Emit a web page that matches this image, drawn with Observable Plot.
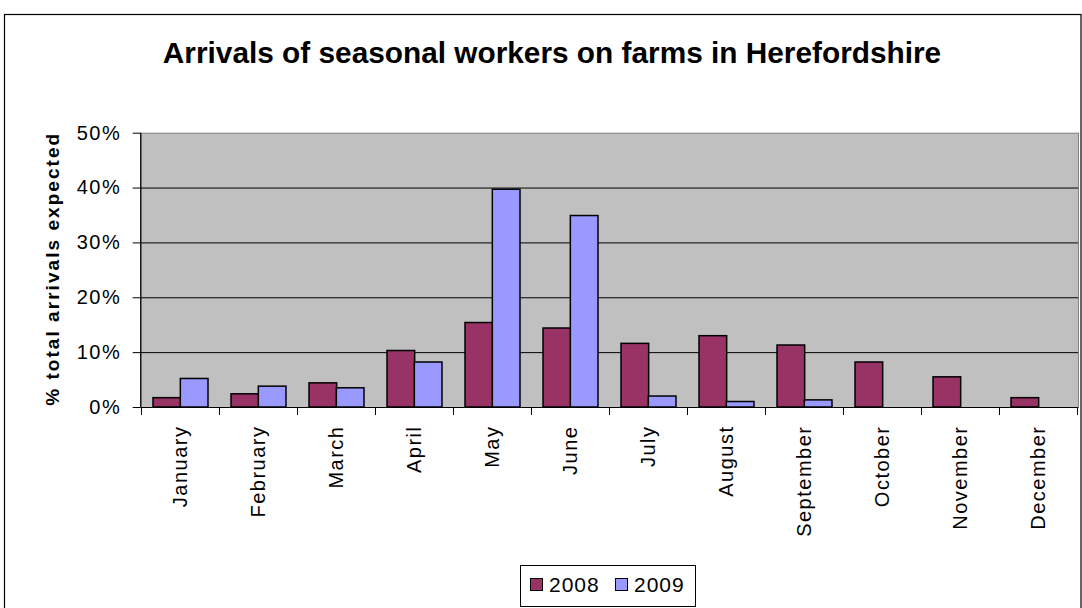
<!DOCTYPE html>
<html><head><meta charset="utf-8">
<script src="https://cdn.jsdelivr.net/npm/d3@7"></script>
<script src="https://cdn.jsdelivr.net/npm/@observablehq/plot@0.6"></script>
<style>
body{margin:0;background:#fff;}
#chart{position:relative;width:1082px;height:608px;}
</style></head><body><div id="chart"></div>
<script>
const months = ["January","February","March","April","May","June","July","August","September","October","November","December"];
const years = ["2008","2009"];
const values2008 = [1.7,2.4,4.4,10.3,15.4,14.4,11.6,13.0,11.3,8.2,5.5,1.7];
const values2009 = [5.2,3.8,3.5,8.2,39.7,34.9,2.0,1.0,1.3,0,0,0];
const yTicks = [0,10,20,30,40,50];
const colors = ["#993366","#9999FF"];
const titleText = "Arrivals of seasonal workers on farms in Herefordshire";
const yLabel = "% total arrivals expected";

const rows = months.flatMap((m,i)=>[
  {month:m, year:years[0], value:values2008[i]},
  {month:m, year:years[1], value:values2009[i]}
]);

const W=1082, H=608, mL=140.7, mR=4, mT=132.7, mB=201;
const step=(W-mL-mR)/months.length;
const half=step*0.7/2;
const font="Liberation Sans, Arial, sans-serif";

const plot = Plot.plot({
  width:W, height:H, marginLeft:mL, marginRight:mR, marginTop:mT, marginBottom:mB,
  style:{fontFamily:font, fontSize:"20px", color:"black", background:"white", overflow:"visible", letterSpacing:"1.5px"},
  x:{type:"band", domain:months, paddingInner:0.3, paddingOuter:0.15, label:null},
  y:{domain:[0,50], label:null},
  marks:[
    Plot.frame({fill:"#c0c0c0", stroke:"#808080"}),
    Plot.ruleY(yTicks.filter(t=>t>0 && t<50), {stroke:"black", strokeWidth:1}),
    Plot.barY(rows, {filter:d=>d.year===years[0] && d.value>0, x:"month", y:"value", fill:colors[0], stroke:"black", strokeWidth:1.5, insetLeft:0, insetRight:half}),
    Plot.barY(rows, {filter:d=>d.year===years[1] && d.value>0, x:"month", y:"value", fill:colors[1], stroke:"black", strokeWidth:1.5, insetLeft:half, insetRight:0}),
    Plot.ruleY([0], {stroke:"black", strokeWidth:1.2}),
    Plot.axisY({ticks:yTicks, tickFormat:d=>d+"%", tickSize:8, tickPadding:12, fontSize:20, stroke:"black"}),
    Plot.axisX({tickRotate:-90, tickSize:0, tickPadding:18, fontSize:20})
  ]
});
document.getElementById("chart").appendChild(plot);

const svg = d3.select(plot);
const xs = plot.scale("x");
const ys = plot.scale("y");
const y0 = ys.apply(0), yTop = ys.apply(50);
const bw = xs.bandwidth, st = xs.step;
// left axis line
svg.append("line").attr("x1",mL).attr("x2",mL).attr("y1",yTop).attr("y2",y0).attr("stroke","black").attr("stroke-width",1.2);
// category boundary ticks
const bounds = months.map(m => xs.apply(m) + bw/2 - st/2);
bounds.push(xs.apply(months[months.length-1]) + bw/2 + st/2);
svg.append("g").selectAll("line").data(bounds).join("line")
  .attr("x1",d=>d).attr("x2",d=>d).attr("y1",y0).attr("y2",y0+8).attr("stroke","black");
// outer border
svg.append("rect").attr("x",4.5).attr("y",14.5).attr("width",1076.5).attr("height",610)
  .attr("fill","none").attr("stroke","black").attr("stroke-width",1.2);
// title
svg.append("text").text(titleText).attr("x",552).attr("y",63).attr("text-anchor","middle")
  .attr("font-family",font).attr("font-weight","bold").attr("font-size",29.8).style("letter-spacing","0px").attr("fill","black");
// y label
svg.append("text").text(yLabel).attr("transform",`translate(59,${(y0+yTop)/2}) rotate(-90)`)
  .attr("text-anchor","middle").attr("font-family",font).attr("font-weight","bold").attr("font-size",19)
  .attr("textLength",272).attr("lengthAdjust","spacing").style("letter-spacing","0px").attr("fill","black");
// legend
const lg = svg.append("g");
lg.append("rect").attr("x",520.5).attr("y",565.5).attr("width",175).attr("height",41).attr("fill","white").attr("stroke","black");
const legX = [530, 615];
years.forEach((yr,i)=>{
  lg.append("rect").attr("x",legX[i]+0.5).attr("y",578.5).attr("width",12).attr("height",12).attr("fill",colors[i]).attr("stroke","black");
  lg.append("text").text(yr).attr("x",legX[i]+19).attr("y",592).attr("text-anchor","start")
    .attr("font-family",font).attr("font-size",21).style("letter-spacing","1px").attr("fill","black");
});
</script></body></html>
